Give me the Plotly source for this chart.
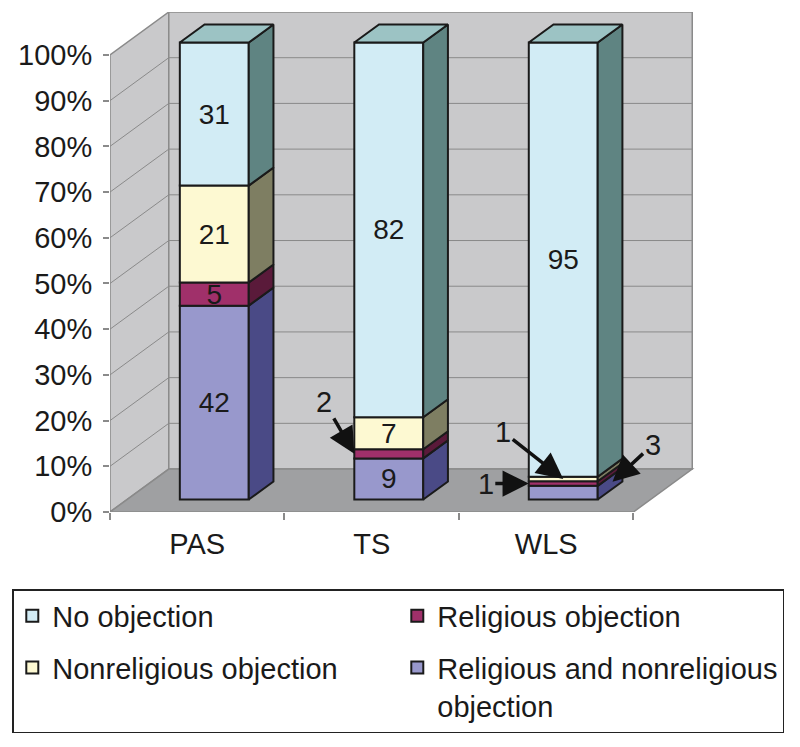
import plotly.graph_objects as go

# --- data (counts per group, stacked bottom -> top) ---
categories = ["PAS", "TS", "WLS"]
both_obj = [42, 9, 3]            # Religious and nonreligious objection
religious_obj = [5, 2, 1]        # Religious objection
nonreligious_obj = [21, 7, 1]    # Nonreligious objection
no_obj = [31, 82, 95]            # No objection
pct_ticks = [0, 10, 20, 30, 40, 50, 60, 70, 80, 90, 100]

series = [
    ("Religious and nonreligious<br>objection", both_obj, "#9898cc", "#4a4a86", 4),
    ("Religious objection", religious_obj, "#a0306a", "#5a1a3a", 2),
    ("Nonreligious objection", nonreligious_obj, "#fdf9d2", "#7e7e62", 3),
    ("No objection", no_obj, "#d2ecf5", "#5f8482", 1),
]
TOP_COLOR = "#9cc3c4"

# values that are labelled with an arrow instead of inside the bar
arrow_labels = {(1, 1): (-30, -52), (2, 2): (-60, -47), (2, 1): (-43, 0)}
side_arrow_labels = {(2, 0): (40, -37)}

# --- 3D geometry, in axis units (1 category = 1 x unit, y in percent) ---
DEPTH_X = 0.337
DEPTH_Y = 9.4
F0, F1 = 0.29, 0.71
BAR_W = 0.395
PX_PER_CAT = 175.0
FONT = "Arial, Liberation Sans, sans-serif"
EDGE = "#1a1a1a"
WALL_EDGE = "#8a8a8a"

n = len(categories)
totals = [sum(s[1][i] for s in series) for i in range(n)]
x0 = F0 * DEPTH_X
y0 = F0 * DEPTH_Y
dbx = (F1 - F0) * DEPTH_X
dby = (F1 - F0) * DEPTH_Y

# page body has an 8px margin, so the figure is 784x731
FIG_W, FIG_H = 784, 731
M_L, M_R, M_T, M_B = 100, 10, 4, 227
plot_w = FIG_W - M_L - M_R


def poly(pts):
    return "M" + "L".join(f"{x:.4f},{y:.4f}" for x, y in pts) + "Z"


shapes = []
# walls and floor
left_wall = [(0, 0), (0, 100), (DEPTH_X, 100 + DEPTH_Y), (DEPTH_X, DEPTH_Y)]
back_wall = [(DEPTH_X, DEPTH_Y), (n + DEPTH_X, DEPTH_Y),
             (n + DEPTH_X, 100 + DEPTH_Y), (DEPTH_X, 100 + DEPTH_Y)]
floor = [(0, 0), (n, 0), (n + DEPTH_X, DEPTH_Y), (DEPTH_X, DEPTH_Y)]
for pts, col in [(left_wall, "#c9c9cb"), (back_wall, "#c9c9cb"), (floor, "#9fa0a2")]:
    shapes.append(dict(type="path", path=poly(pts), xref="x", yref="y",
                       fillcolor=col, line=dict(color=WALL_EDGE, width=1.5),
                       layer="below"))
for v in pct_ticks[1:-1]:
    shapes.append(dict(type="line", xref="x", yref="y", layer="below",
                       x0=0, y0=v, x1=DEPTH_X, y1=v + DEPTH_Y,
                       line=dict(color=WALL_EDGE, width=1)))
    shapes.append(dict(type="line", xref="x", yref="y", layer="below",
                       x0=DEPTH_X, y0=v + DEPTH_Y, x1=n + DEPTH_X, y1=v + DEPTH_Y,
                       line=dict(color=WALL_EDGE, width=1)))

fig = go.Figure()

cum = [0.0] * n
seg_bounds = {}
for si, (name, vals, front, side, rank) in enumerate(series):
    pct = [vals[i] / totals[i] * 100 for i in range(n)]
    texts = []
    for i in range(n):
        if (i, si) in arrow_labels or (i, si) in side_arrow_labels:
            texts.append("")
        else:
            texts.append(str(vals[i]))
        seg_bounds[(i, si)] = (cum[i], cum[i] + pct[i])
    fig.add_trace(go.Bar(
        x=[i + 0.5 + x0 for i in range(n)],
        y=pct,
        base=[c + y0 for c in cum],
        width=BAR_W,
        name=name,
        legendgroup=f"g{rank}",
        legendrank=rank,
        marker=dict(color=front, line=dict(color=EDGE, width=2)),
        text=texts,
        textposition="inside",
        insidetextanchor="middle",
        textangle=0,
        constraintext="none",
        textfont=dict(size=28, color=EDGE, family=FONT),
        hovertemplate="%{x}<extra>" + name + "</extra>",
    ))
    # right side faces
    for i in range(n):
        b, t = seg_bounds[(i, si)]
        xr = i + 0.5 + x0 + BAR_W / 2
        fig.add_trace(go.Scatter(
            x=[xr, xr + dbx, xr + dbx, xr, xr],
            y=[b + y0, b + y0 + dby, t + y0 + dby, t + y0, b + y0],
            mode="lines", fill="toself", fillcolor=side,
            line=dict(color=EDGE, width=2),
            legendgroup=f"g{rank}", showlegend=False, hoverinfo="skip",
        ))
    cum = [cum[i] + pct[i] for i in range(n)]

# top faces
for i in range(n):
    xl = i + 0.5 + x0 - BAR_W / 2
    xr = xl + BAR_W
    top = cum[i] + y0
    fig.add_trace(go.Scatter(
        x=[xl, xr, xr + dbx, xl + dbx, xl],
        y=[top, top, top + dby, top + dby, top],
        mode="lines", fill="toself", fillcolor=TOP_COLOR,
        line=dict(color=EDGE, width=2),
        legendgroup="g1", showlegend=False, hoverinfo="skip",
    ))

annotations = []
arrow_style = dict(showarrow=True, arrowhead=2, arrowsize=1.5, arrowwidth=3.5,
                   arrowcolor="#111111", font=dict(size=29, color=EDGE, family=FONT))
for (i, si), (ax, ay) in arrow_labels.items():
    b, t = seg_bounds[(i, si)]
    xl = i + 0.5 + x0 - BAR_W / 2
    # arrow to the left edge of the segment, or to the middle of the front face
    hx = i + 0.5 + x0 if si == 2 else xl
    annotations.append(dict(x=hx, y=(b + t) / 2 + y0, xref="x", yref="y",
                            ax=ax, ay=ay, text=str(series[si][1][i]), **arrow_style))
for (i, si), (ax, ay) in side_arrow_labels.items():
    b, t = seg_bounds[(i, si)]
    xr = i + 0.5 + x0 + BAR_W / 2
    annotations.append(dict(x=xr + 0.6 * dbx, y=(b + t) / 2 + y0 + 0.6 * dby,
                            xref="x", yref="y", ax=ax, ay=ay,
                            text=str(series[si][1][i]), **arrow_style))

fig.update_layout(
    width=FIG_W, height=FIG_H,
    margin=dict(l=M_L, r=M_R, t=M_T, b=M_B),
    paper_bgcolor="white", plot_bgcolor="white",
    barmode="overlay",
    font=dict(family=FONT, size=29, color=EDGE),
    shapes=shapes,
    annotations=annotations,
    xaxis=dict(range=[0, plot_w / PX_PER_CAT], showgrid=False, zeroline=False, showline=False,
               tickmode="array", tickvals=[i + 0.5 for i in range(n)], ticktext=categories,
               ticks="", ticklabelstandoff=12, tickfont=dict(size=29),
               minor=dict(tickmode="array", tickvals=list(range(n + 1)), ticks="outside",
                          ticklen=7, tickwidth=1.5, tickcolor=WALL_EDGE, showgrid=False),
               fixedrange=True),
    yaxis=dict(range=[0, 100 + DEPTH_Y], showgrid=False, zeroline=False, showline=False,
               tickmode="array", tickvals=pct_ticks, ticktext=[f"{v}%" for v in pct_ticks],
               ticks="outside", ticklen=6, tickwidth=1.5, tickcolor=WALL_EDGE,
               ticklabelstandoff=5, tickfont=dict(size=29), fixedrange=True),
    legend=dict(orientation="h", x=(2 - M_L) / plot_w, xanchor="left",
                y=-0.154, yanchor="top",
                entrywidth=340, traceorder="grouped", tracegroupgap=11, valign="top",
                bordercolor="#222222", borderwidth=1.5, bgcolor="white",
                font=dict(size=29, family=FONT, color=EDGE)),
)

fig.write_html("out.html")
